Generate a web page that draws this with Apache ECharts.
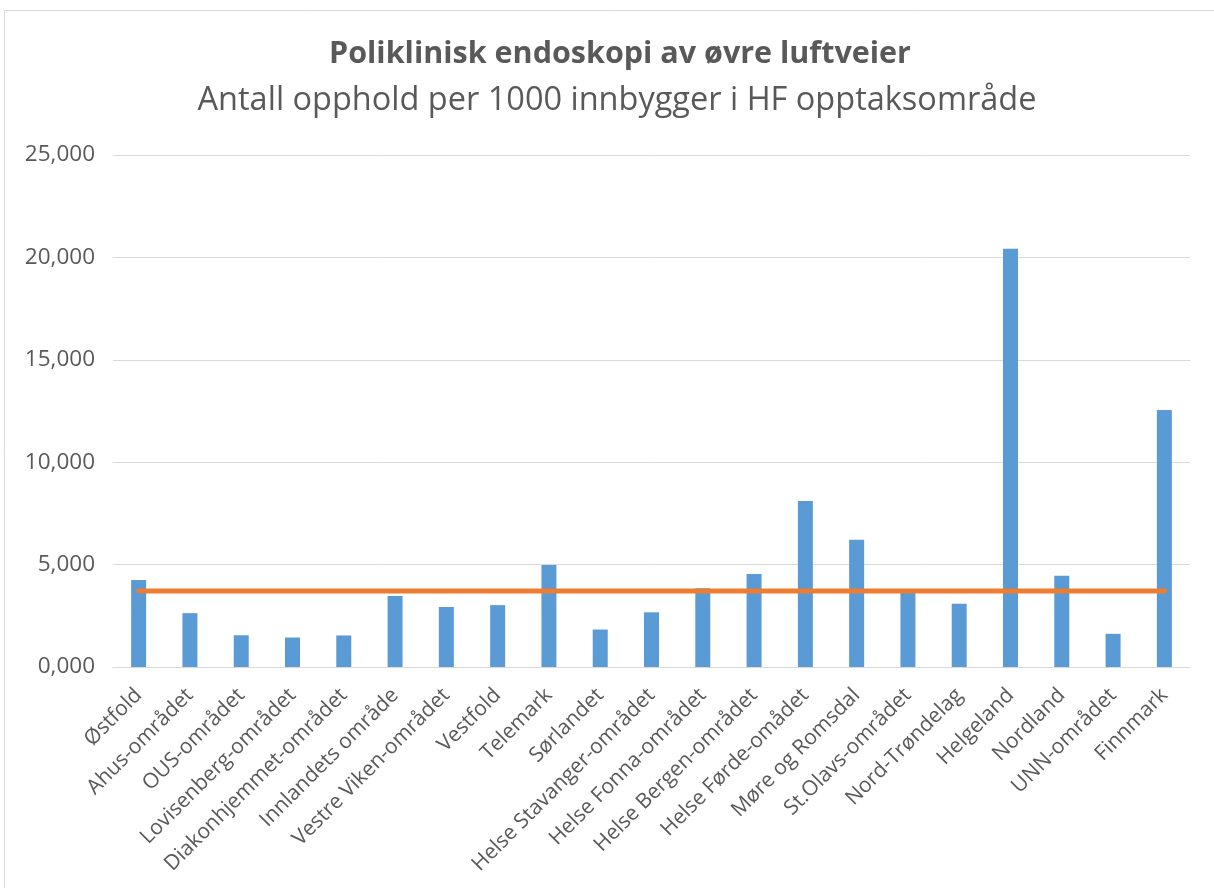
<!DOCTYPE html>
<html>
<head>
<meta charset="utf-8">
<script src="https://cdn.jsdelivr.net/npm/echarts@6/dist/echarts.min.js"></script>
<style>
html,body{margin:0;padding:0;background:#fff;}
#chart{width:1214px;height:888px;}
</style>
</head>
<body>
<div id="chart"></div>
<script>
const categories = ["Østfold","Ahus-området","OUS-området","Lovisenberg-området","Diakonhjemmet-området","Innlandets område","Vestre Viken-området","Vestfold","Telemark","Sørlandet","Helse Stavanger-området","Helse Fonna-området","Helse Bergen-området","Helse Førde-omådet","Møre og Romsdal","St.Olavs-området","Nord-Trøndelag","Helgeland","Nordland","UNN-området","Finnmark"];
const rateValues = [4.25,2.63,1.55,1.44,1.54,3.47,2.93,3.02,4.98,1.83,2.67,3.85,4.54,8.11,6.21,3.62,3.09,20.42,4.45,1.62,12.55];
const nationalAverage = 3.71;
const averageValues = categories.map(() => nationalAverage);
const titleText = "Poliklinisk endoskopi av øvre luftveier";
const subtitleText = "Antall opphold per 1000 innbygger i HF opptaksområde";

const chart = echarts.init(document.getElementById('chart'), null, {renderer:'canvas'});
const FONT = 'Open Sans';
chart.setOption({
  animation:false,
  backgroundColor:'#fff',
  graphic:[{type:'rect',shape:{x:4.5,y:10.5,width:1230,height:900},style:{fill:'none',stroke:'#d9d9d9',lineWidth:1},silent:true}],
  title:[
    {text:titleText,left:615,textAlign:'center',top:34,textStyle:{fontFamily:FONT,fontSize:30.5,fontWeight:'bold',color:'#595959'}},
    {text:subtitleText,left:612,textAlign:'center',top:79,textStyle:{fontFamily:FONT,fontSize:32.5,fontWeight:'normal',color:'#595959'}}
  ],
  grid:{left:113,right:24,top:155,bottom:221,containLabel:false},
  xAxis:{
    type:'category',data:categories,
    axisLine:{lineStyle:{color:'#d9d9d9',width:1}},
    axisTick:{show:false},
    axisLabel:{rotate:45,interval:0,margin:25,fontFamily:FONT,fontSize:21,color:'#595959'}
  },
  yAxis:{
    type:'value',min:0,max:25,interval:5,
    axisLine:{show:false},axisTick:{show:false},
    splitLine:{lineStyle:{color:'#d9d9d9',width:1}},
    axisLabel:{margin:18,fontFamily:FONT,fontSize:22.5,color:'#595959',formatter:v=>v.toFixed(3).replace('.',',')}
  },
  series:[
    {type:'bar',data:rateValues,barWidth:15,itemStyle:{color:'#5B9BD5'},z:2},
    {type:'line',data:averageValues,symbol:'none',lineStyle:{color:'#ED7D31',width:5,cap:'round'},z:3}
  ]
});
</script>
</body>
</html>
